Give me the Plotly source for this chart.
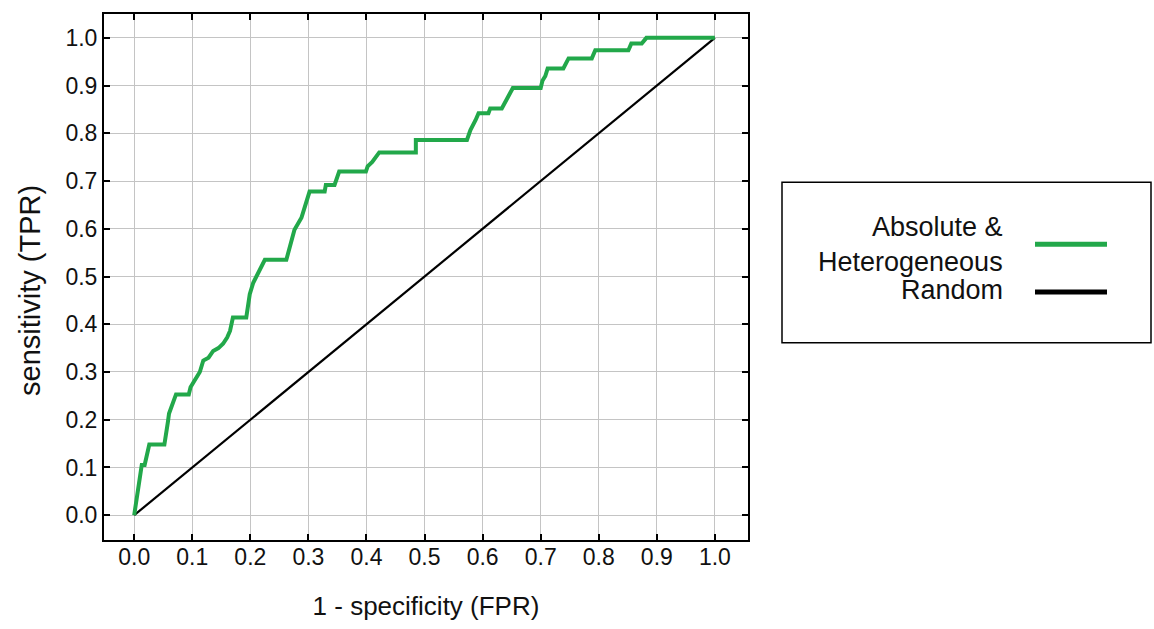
import plotly.graph_objects as go

# ROC curve vertices (false positive rate, true positive rate)
fpr = [0.000, 0.005, 0.010, 0.013, 0.018, 0.022, 0.026, 0.052, 0.055, 0.058,
       0.060, 0.064, 0.068, 0.072, 0.094, 0.097, 0.104, 0.108, 0.113, 0.119,
       0.128, 0.136, 0.145, 0.153, 0.160, 0.165, 0.170, 0.193, 0.199, 0.205,
       0.213, 0.218, 0.225, 0.262, 0.268, 0.276, 0.288, 0.293, 0.302, 0.328,
       0.330, 0.345, 0.350, 0.353, 0.399, 0.402, 0.410, 0.416, 0.422, 0.485,
       0.485, 0.573, 0.579, 0.588, 0.593, 0.610, 0.613, 0.633, 0.639, 0.645,
       0.652, 0.700, 0.703, 0.708, 0.712, 0.739, 0.748, 0.788, 0.794, 0.851,
       0.856, 0.874, 0.882, 1.000]
tpr = [0.000, 0.040, 0.070, 0.105, 0.105, 0.130, 0.148, 0.148, 0.180, 0.195,
       0.213, 0.225, 0.240, 0.253, 0.253, 0.268, 0.282, 0.290, 0.300, 0.324,
       0.330, 0.344, 0.350, 0.359, 0.372, 0.386, 0.414, 0.414, 0.463, 0.487,
       0.505, 0.520, 0.535, 0.535, 0.560, 0.598, 0.623, 0.644, 0.678, 0.678,
       0.692, 0.692, 0.710, 0.720, 0.720, 0.731, 0.740, 0.752, 0.760, 0.760,
       0.786, 0.786, 0.807, 0.828, 0.842, 0.842, 0.852, 0.852, 0.866, 0.880,
       0.895, 0.895, 0.910, 0.920, 0.936, 0.936, 0.957, 0.957, 0.974, 0.974,
       0.988, 0.988, 1.000, 1.000]

# Chance line
random_x = [0.0, 1.0]
random_y = [0.0, 1.0]

tick_vals = [0.0, 0.1, 0.2, 0.3, 0.4, 0.5, 0.6, 0.7, 0.8, 0.9, 1.0]
tick_text = ["0.0", "0.1", "0.2", "0.3", "0.4", "0.5", "0.6", "0.7", "0.8", "0.9", "1.0"]

series_names = ["Absolute &<br>Heterogeneous", "Random"]
series_colors = ["#22a84a", "#000000"]

FONT = "Liberation Sans, Arial, sans-serif"
TEXT = "#111111"

fig = go.Figure()
fig.add_trace(go.Scatter(x=random_x, y=random_y, mode="lines",
                         line=dict(color=series_colors[1], width=2.2),
                         name=series_names[1], showlegend=False))
fig.add_trace(go.Scatter(x=fpr, y=tpr, mode="lines",
                         line=dict(color=series_colors[0], width=4),
                         name=series_names[0], showlegend=False))

axis_common = dict(
    tickvals=tick_vals, ticktext=tick_text,
    showgrid=True, gridcolor="#c4c4c4", gridwidth=1,
    zeroline=False,
    showline=True, linecolor="black", linewidth=2, mirror="all",
    ticks="inside", ticklen=6, tickwidth=2, tickcolor="black",
    tickfont=dict(family=FONT, size=23, color=TEXT),
)

fig.update_xaxes(range=[-0.052, 1.057], ticklabelstandoff=-5,
                 title=dict(text="1 - specificity (FPR)", standoff=28,
                            font=dict(family=FONT, size=26, color=TEXT)),
                 **axis_common)
fig.update_yaxes(range=[-0.052, 1.050], **axis_common)

# Legend box drawn in paper space: labels on the left, line samples on the right
lx0, lx1, ly0, ly1 = 782, 1151, 181, 342
W, H = 1154, 629
ml, mr, mt, mb = 104, 406, 12, 89
pw, ph = W - ml - mr, H - mt - mb


def px(x):
    return (x - ml) / pw


def py(y):
    return 1 - (y - mt) / ph


shapes = [dict(type="rect", xref="paper", yref="paper",
               x0=px(lx0), x1=px(lx1), y0=py(ly1), y1=py(ly0),
               line=dict(color="black", width=1.5), fillcolor="white")]
sample_y = [243, 291]
for c, sy in zip(series_colors, sample_y):
    shapes.append(dict(type="line", xref="paper", yref="paper",
                       x0=px(1035), x1=px(1107), y0=py(sy), y1=py(sy),
                       line=dict(color=c, width=5)))

label_rows = [243, 289]
annotations = []
for name, ry in zip(series_names, label_rows):
    annotations.append(dict(
        xref="paper", yref="paper", x=px(1005), y=py(ry),
        text=name, showarrow=False, xanchor="right", yanchor="middle",
        align="right", font=dict(family=FONT, size=27, color=TEXT)))

# vertical axis title
annotations.append(dict(
    xref="paper", yref="paper", x=px(30), y=py(290),
    text="sensitivity (TPR)", textangle=-90, showarrow=False,
    xanchor="center", yanchor="middle",
    font=dict(family=FONT, size=29, color=TEXT)))

fig.update_layout(
    width=W, height=H,
    margin=dict(l=ml, r=mr, t=mt, b=mb),
    paper_bgcolor="white", plot_bgcolor="white",
    shapes=shapes, annotations=annotations,
    showlegend=False,
)

fig.write_html("out.html")
